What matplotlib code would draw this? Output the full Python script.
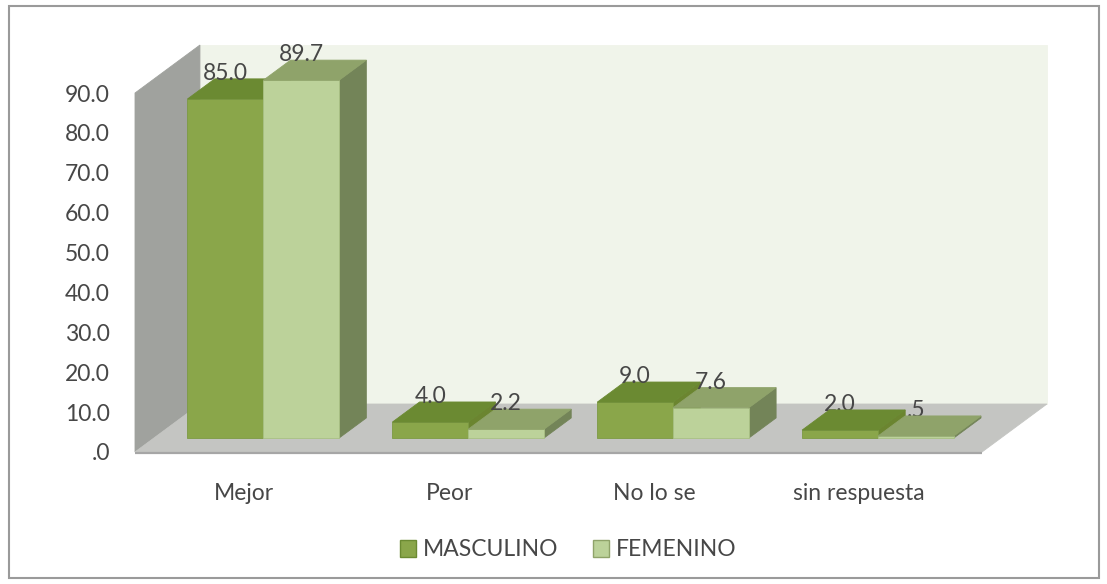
import matplotlib.pyplot as plt
from matplotlib.patches import Polygon, Patch, Rectangle

# datos
categories = ['Mejor', 'Peor', 'No lo se', 'sin respuesta']
masculino = [85.0, 4.0, 9.0, 2.0]
femenino = [89.7, 2.2, 7.6, 0.5]
series_names = ['MASCULINO', 'FEMENINO']
yticks = [0, 10, 20, 30, 40, 50, 60, 70, 80, 90]


def fmt(v):
    # formato estilo Excel: ".0", ".5", "10.0"
    s = f'{v:.1f}'
    return s[1:] if s.startswith('0.') else s


plt.rcParams['font.family'] = ['Lato', 'DejaVu Sans']
txt_color = '#474747'
fs = 16.5

# colores (frente, arriba, lado)
col_m = ('#8aa64a', '#6b8a32', '#6b8530')
col_f = ('#bcd29a', '#8fa36a', '#738458')

fig = plt.figure(figsize=(11.07, 5.84), dpi=100)
ax = fig.add_axes([135 / 1107, 132 / 584, 847 / 1107, 359 / 584])
x0, x1 = -0.534, 3.6
ax.set_xlim(x0, x1)
ax.set_ylim(0, 90)

# profundidad 3D
DX, DY = 0.317, 12.03
d0, dd = 0.29, 0.42
w = 0.37


def proj(x, y, d):
    return (x + d * DX, y + d * DY)


def poly(pts, color, z, ec=None, lw=0.6):
    ax.add_patch(Polygon(pts, closed=True, facecolor=color, edgecolor=ec or color,
                         linewidth=lw, zorder=z, clip_on=False))


# paredes y piso
poly([proj(x0, 0, 1), proj(x1, 0, 1), proj(x1, 90, 1), proj(x0, 90, 1)], '#f0f4ea', 1)
poly([proj(x0, 0, 0), proj(x0, 0, 1), proj(x0, 90, 1), proj(x0, 90, 0)], '#a0a29e', 1)
poly([proj(x0, 0, 0), proj(x1, 0, 0), proj(x1, 0, 1), proj(x0, 0, 1)], '#c4c5c2', 1)
ax.plot([x0, x1], [-0.2, -0.2], color='#a6a6a6', linewidth=1.6, zorder=1.5,
        clip_on=False, solid_capstyle='butt')

# barras
z = 2
for i in range(len(categories)):
    for s, (vals, col) in enumerate([(masculino, col_m), (femenino, col_f)]):
        v = vals[i]
        left = i - w + s * w
        edge = '#7d9a44' if s == 0 else '#a9c184'
        # lado derecho
        poly([proj(left + w, 0, d0), proj(left + w, 0, d0 + dd),
              proj(left + w, v, d0 + dd), proj(left + w, v, d0)], col[2], z)
        ax.bar(left + d0 * DX, v, width=w, bottom=d0 * DY, align='edge',
               color=col[0], edgecolor=edge, linewidth=0.6, zorder=z + 1, clip_on=False)
        poly([proj(left, v, d0), proj(left + w, v, d0),
              proj(left + w, v, d0 + dd), proj(left, v, d0 + dd)], col[1], z + 2)
        ax.text(left + w / 2 + d0 * DX, v + (d0 + dd) * DY - 0.3, fmt(v),
                ha='center', va='baseline', fontsize=fs, color=txt_color, zorder=20)
        z += 3

# ejes
ax.set_yticks(yticks)
ax.set_yticklabels([fmt(t) for t in yticks])
ax.set_xticks(range(len(categories)))
ax.set_xticklabels(categories)
ax.tick_params(axis='y', length=0, pad=18, labelsize=fs, labelcolor=txt_color)
ax.tick_params(axis='x', length=0, pad=22, labelsize=fs, labelcolor=txt_color)
for sp in ax.spines.values():
    sp.set_visible(False)
ax.patch.set_visible(False)

# leyenda
handles = [Patch(facecolor=col_m[0], edgecolor='#6b8a32'),
           Patch(facecolor=col_f[0], edgecolor='#8fa36a')]
fig.legend(handles, series_names, loc='center', bbox_to_anchor=(568 / 1107, 34 / 584),
           ncol=2, frameon=False, fontsize=fs, labelcolor=txt_color,
           handlelength=0.7, handleheight=0.7, handletextpad=0.3, columnspacing=1.5)

# borde exterior
fig.patches.append(Rectangle((9 / 1107, 6 / 584), 1090 / 1107, 572 / 584,
                             transform=fig.transFigure, fill=False,
                             edgecolor='#9a9a9a', linewidth=1.5))

plt.savefig('out.png', dpi=100)
